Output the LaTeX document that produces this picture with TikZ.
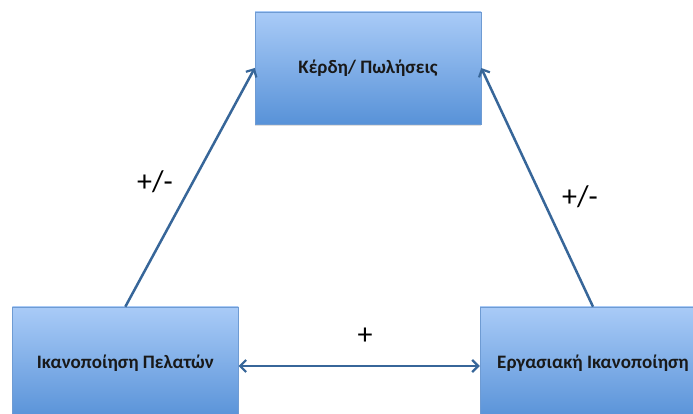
\documentclass[tikz,border=0pt]{standalone}
\usepackage{fontspec}
\setmainfont{Carlito}
\usetikzlibrary{arrows.meta,shadows}
\definecolor{boxtop}{HTML}{A9CBF7}
\definecolor{boxbottom}{HTML}{5892D8}
\definecolor{boxedge}{HTML}{6E9BD3}
\definecolor{linkblue}{HTML}{376699}
\tikzset{
  factor/.style={draw=boxedge, line width=0.5pt, top color=boxtop, bottom color=boxbottom,
    minimum width=226pt, minimum height=112pt, inner sep=0pt,
    font=\fontsize{19}{22}\selectfont\bfseries, text=black!90,
    drop shadow={opacity=0.25, shadow xshift=0pt, shadow yshift=-2pt}},
  barb/.style={Straight Barb[length=6pt, width=12pt, line width=2.2pt]},
  link/.style={draw=linkblue, line width=2.5pt, arrows={-Straight Barb[length=6pt, width=12pt, line width=2.2pt]}},
  sign/.style={font=\fontsize{30}{34}\selectfont, text=black}
}
\begin{document}
\begin{tikzpicture}[x=1pt, y=1pt]
  \useasboundingbox (0,0) rectangle (693,414);
  \clip (0,0) rectangle (693,414);
  \fill[white] (0,0) rectangle (693,414);

  % three factors
  \node[factor] (sales) at (368,346) {Κέρδη/ Πωλήσεις};
  \node[factor] (clients) at (125.3,51) {Ικανοποίηση Πελατών};
  \node[factor] (staff) at (593,51) {Εργασιακή Ικανοποίηση};

  % influences
  \draw[link] (clients.north) -- (sales.west);
  \draw[link] (staff.north) -- (sales.east);
  \draw[link, arrows={Straight Barb[length=6pt, width=12pt, line width=2.2pt]-Straight Barb[length=6pt, width=12pt, line width=2.2pt]}]
    ([yshift=-3pt]clients.east) -- ([yshift=-3pt]staff.west);

  % signs of the relations
  \node[sign] (s1) at (155,232) {+/-};
  \node[sign] (s2) at (580,217) {+/-};
  \node[sign] (s3) at (365,78) {+};
\end{tikzpicture}
\end{document}
